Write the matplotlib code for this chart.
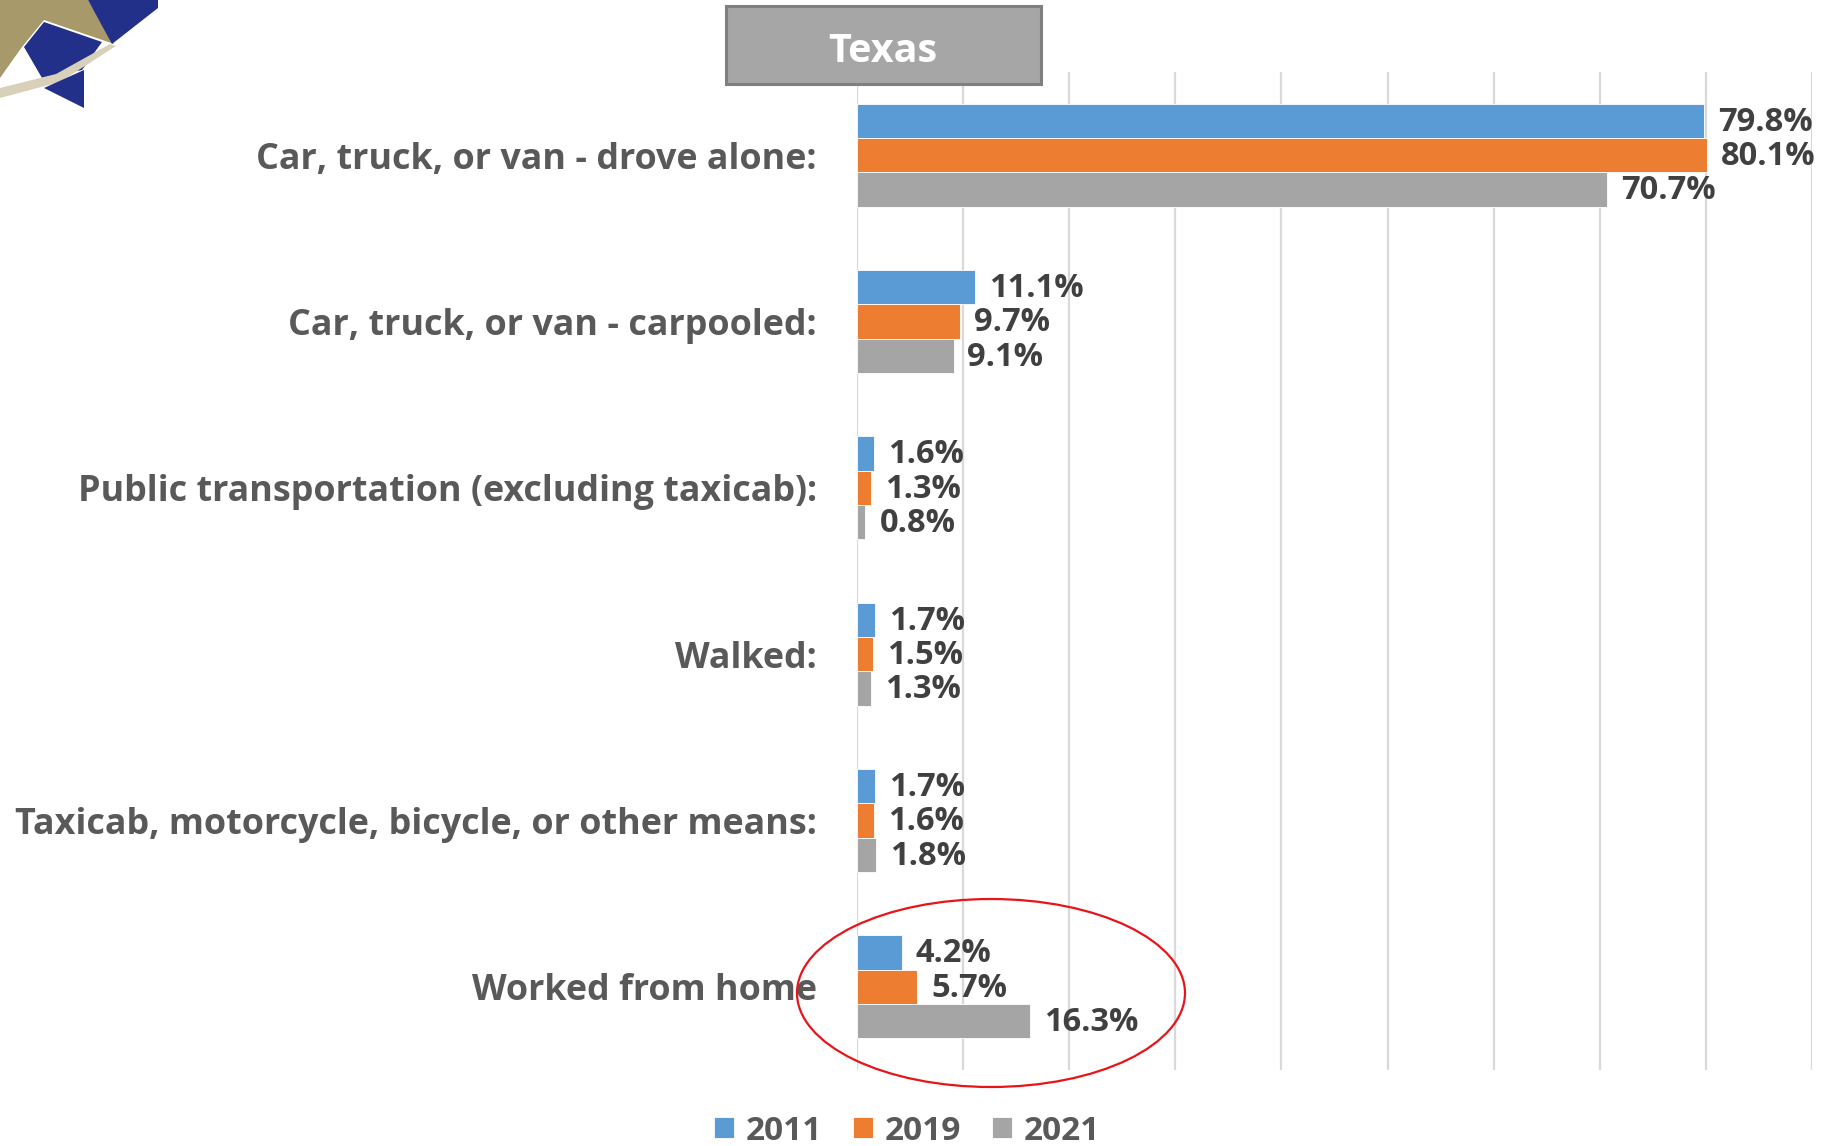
import matplotlib
matplotlib.use("Agg")
import matplotlib.pyplot as plt
from matplotlib.patches import Rectangle, Ellipse, Polygon
import numpy as np

categories = ["Car, truck, or van - drove alone:",
              "Car, truck, or van - carpooled:",
              "Public transportation (excluding taxicab):",
              "Walked:",
              "Taxicab, motorcycle, bicycle, or other means:",
              "Worked from home"]
years = ["2011", "2019", "2021"]
v2011 = [79.8, 11.1, 1.6, 1.7, 1.7, 4.2]
v2019 = [80.1, 9.7, 1.3, 1.5, 1.6, 5.7]
v2021 = [70.7, 9.1, 0.8, 1.3, 1.8, 16.3]
colors = ["#5b9bd5", "#ed7d31", "#a5a5a5"]
title = "Texas"

W, H = 1824, 1146
plt.rcParams['font.family'] = ['Open Sans', 'DejaVu Sans']
fig = plt.figure(figsize=(W / 100, H / 100), dpi=100)

def fx(x):
    return x / W

def fy(y):
    return 1 - y / H

ax_left, ax_right, ax_top, ax_bot = 857, 1812, 72, 1070
ax = fig.add_axes([fx(ax_left), fy(ax_bot), fx(ax_right - ax_left), (ax_bot - ax_top) / H])

bh = 0.207
y = np.arange(len(categories))
series = [v2011, v2019, v2021]
for k, (vals, c, yr) in enumerate(zip(series, colors, years)):
    pos = y + (k - 1) * bh
    ax.barh(pos, vals, height=bh, color=c, edgecolor="white", linewidth=0.6, label=yr, zorder=3)
    for p, v in zip(pos, vals):
        ax.annotate(f"{v:.1f}%", (v, p), xytext=(10, -1), textcoords="offset points",
                    ha="left", va="center", fontsize=23.5, fontweight="bold", color="#404040",
                    annotation_clip=False, zorder=4)

ax.set_xlim(0, 90)
ax.set_ylim(len(categories) - 0.5, -0.5)
ax.set_xticks(np.arange(0, 91, 10))
ax.xaxis.grid(True, color="#d9d9d9", linewidth=1.6, zorder=0)
ax.tick_params(axis="x", length=0, labelbottom=False)
ax.tick_params(axis="y", length=0, pad=29)
ax.set_yticks(y)
ax.set_yticklabels(categories, fontsize=25.8, fontweight="bold", color="#595959")
for s in ax.spines.values():
    s.set_visible(False)

# legend
handles, labels = ax.get_legend_handles_labels()
leg = fig.legend(handles, labels, loc="center", bbox_to_anchor=(fx(907), fy(1131)), ncol=3,
                 frameon=False, handlelength=0.6, handleheight=0.6, handletextpad=0.33,
                 columnspacing=0.95, prop={"size": 24, "weight": "bold"}, borderaxespad=0)
for t in leg.get_texts():
    t.set_color("#595959")

# title box
fig.patches.append(Rectangle((fx(726), fy(84)), fx(1041 - 726), (84 - 6) / H,
                             transform=fig.transFigure, facecolor="#a6a6a6",
                             edgecolor="#7f7f7f", linewidth=2.2, zorder=5))
fig.text(fx(883), fy(47), title, ha="center", va="center_baseline", fontsize=28.5,
         fontweight="bold", color="white", zorder=6)

# red ellipse
fig.patches.append(Ellipse((fx(991), fy(993)), fx(388), 188 / H, transform=fig.transFigure,
                           facecolor="none", edgecolor="#e8141a", linewidth=1.6, zorder=7))

# logo fragment (top-left)
def poly(pts, color):
    fig.patches.append(Polygon([(fx(a), fy(b)) for a, b in pts], closed=True,
                               transform=fig.transFigure, facecolor=color,
                               edgecolor="none", zorder=2))

poly([(0, 0), (88, 0), (114, 44), (44, 20), (22, 47), (0, 78)], "#a8996a")
poly([(88, 0), (158, 0), (158, 8), (112, 44)], "#23308a")
poly([(44, 22), (102, 42), (82, 70), (42, 78), (24, 47)], "#23308a")
poly([(0, 88), (0, 98), (60, 82), (116, 46), (110, 44), (56, 74)], "#d8d0b8")
poly([(44, 88), (84, 70), (84, 108)], "#23308a")

fig.savefig("out.png", dpi=100)
